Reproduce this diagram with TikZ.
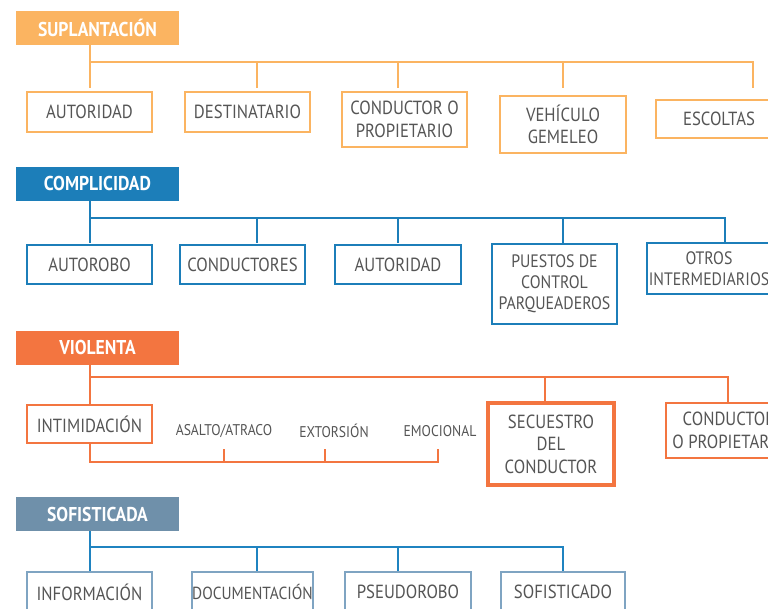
\documentclass[tikz,border=0pt]{standalone}
\usepackage{fontspec}
\setmainfont{PT Sans}[FakeStretch=0.88]
\definecolor{supl}{HTML}{FBB461}
\definecolor{comp}{HTML}{1C7EB9}
\definecolor{viol}{HTML}{F37540}
\definecolor{sofh}{HTML}{6F90AA}
\definecolor{sofl}{HTML}{1F83C0}
\definecolor{sofb}{HTML}{7FA4C2}
\definecolor{txt}{HTML}{555555}
\tikzset{
  head/.style={rectangle, inner sep=0pt, minimum width=163pt, minimum height=34pt, text=white, font=\fontsize{20}{22}\selectfont\bfseries},
  box/.style={rectangle, draw, line width=2.2pt, fill=white, inner sep=0pt, minimum width=125pt, align=center, text=txt, font=\fontsize{19}{22.5}\selectfont},
  lab/.style={inner sep=0pt, text=txt, font=\fontsize{15.5}{17}\selectfont},
  conn/.style={line width=2.5pt},
}
\begin{document}
\begin{tikzpicture}[x=1pt,y=-1pt]
\useasboundingbox[fill=white] (0,0) rectangle (768,609);

% ---------------- SUPLANTACION ----------------
\node[head, fill=supl] (h1) at (97.5,28) {SUPLANTACIÓN};
\node[box, draw=supl, minimum height=40pt] (s1a) at (89.5,112) {AUTORIDAD};
\node[box, draw=supl, minimum height=40pt] (s1b) at (247.5,112) {DESTINATARIO};
\node[box, draw=supl, minimum height=55pt] (s1c) at (404.5,119.5) {CONDUCTOR O\\PROPIETARIO};
\node[box, draw=supl, minimum width=126pt, minimum height=57pt] (s1d) at (563,124.5) {VEHÍCULO\\GEMELEO};
\node[box, draw=supl, minimum width=126pt, minimum height=38pt] (s1e) at (719,119) {ESCOLTAS};
\coordinate (b1) at (0,62);
\coordinate (d1) at (0,88);
\coordinate (x1a) at (90,0);
\coordinate (x1b) at (257,0);
\coordinate (x1c) at (398,0);
\coordinate (x1d) at (563,0);
\coordinate (x1e) at (753,0);
\begin{scope}[conn, draw=supl]
\draw (h1.south -| x1a) -- (x1a |- d1);
\draw (x1a |- b1) -- (x1e |- b1) -- (x1e |- d1);
\draw (x1b |- b1) -- (x1b |- d1);
\draw (x1c |- b1) -- (x1c |- d1);
\draw (x1d |- b1) -- (x1d |- d1);
\end{scope}

% ---------------- COMPLICIDAD ----------------
\node[head, fill=comp] (h2) at (97.5,184) {COMPLICIDAD};
\node[box, draw=comp, minimum height=39pt] (c2a) at (89.5,264.5) {AUTOROBO};
\node[box, draw=comp, minimum height=39pt] (c2b) at (242.5,264.5) {CONDUCTORES};
\node[box, draw=comp, minimum width=126pt, minimum height=39pt] (c2c) at (398,264.5) {AUTORIDAD};
\node[box, draw=comp, line width=2.8pt, minimum height=80pt, font=\fontsize{18}{21}\selectfont] (c2d) at (554.5,284) {PUESTOS DE\\CONTROL\\PARQUEADEROS};
\node[box, draw=comp, line width=2.8pt, minimum width=124pt, minimum height=51pt, font=\fontsize{18}{21}\selectfont] (c2e) at (709,268.5) {OTROS\\INTERMEDIARIOS};
\coordinate (b2) at (0,218);
\coordinate (d2) at (0,243);
\coordinate (x2e) at (725,0);
\begin{scope}[conn, draw=comp]
\draw (h2.south -| x1a) -- (x1a |- d2);
\draw (x1a |- b2) -- (x2e |- b2) -- (x2e |- d2);
\draw (x1b |- b2) -- (x1b |- d2);
\draw (x1c |- b2) -- (x1c |- d2);
\draw (x1d |- b2) -- (x1d |- d2);
\end{scope}

% ---------------- VIOLENTA ----------------
\node[head, fill=viol] (h3) at (97.5,348) {VIOLENTA};
\node[box, draw=viol, minimum height=38pt] (v3a) at (89.5,424) {INTIMIDACIÓN};
\node[lab] (v3b) at (224,431) {ASALTO/ATRACO};
\node[lab] (v3c) at (334,431) {EXTORSIÓN};
\node[lab] (v3d) at (440,431) {EMOCIONAL};
\node[box, draw=viol, line width=3.2pt, minimum width=126pt, minimum height=82pt] (v3e) at (551,444) {SECUESTRO\\DEL\\CONDUCTOR};
\node[box, draw=viol, minimum width=126pt, minimum height=55pt] (v3f) at (729,430.5) {CONDUCTOR\\O PROPIETARIO};
\coordinate (b3) at (0,377);
\coordinate (d3) at (0,403);
\coordinate (e3) at (0,462);
\coordinate (t3) at (0,449);
\coordinate (x3e) at (545,0);
\coordinate (x3f) at (728,0);
\coordinate (x3b) at (224,0);
\coordinate (x3c) at (325,0);
\coordinate (x3d) at (438,0);
\begin{scope}[conn, draw=viol]
\draw (h3.south -| x1a) -- (v3a.north -| x1a);
\draw (x1a |- b3) -- (x3f |- b3) -- (x3f |- d3);
\draw (x3e |- b3) -- (x3e |- d3);
\draw (v3a.south -| x1a) -- (x1a |- e3) -- (x3d |- e3) -- (x3d |- t3);
\draw (x3b |- e3) -- (x3b |- t3);
\draw (x3c |- e3) -- (x3c |- t3);
\end{scope}

% ---------------- SOFISTICADA ----------------
\node[head, fill=sofh] (h4) at (97.5,514) {SOFISTICADA};
\node[box, draw=sofb, minimum height=40pt] (f4a) at (89.5,592) {INFORMACIÓN};
\node[box, draw=sofb, minimum width=115pt, minimum height=40pt, font=\fontsize{17.5}{21}\selectfont] (f4b) at (252.5,592) {DOCUMENTACIÓN};
\node[box, draw=sofb, minimum width=126pt, minimum height=40pt] (f4c) at (408,592) {PSEUDOROBO};
\node[box, draw=sofb, minimum width=124pt, minimum height=40pt] (f4d) at (563,592) {SOFISTICADO};
\coordinate (b4) at (0,547);
\coordinate (d4) at (0,571);
\begin{scope}[conn, draw=sofl]
\draw (h4.south -| x1a) -- (x1a |- d4);
\draw (x1a |- b4) -- (x1d |- b4) -- (x1d |- d4);
\draw (x1b |- b4) -- (x1b |- d4);
\draw (x1c |- b4) -- (x1c |- d4);
\end{scope}
\end{tikzpicture}
\end{document}
